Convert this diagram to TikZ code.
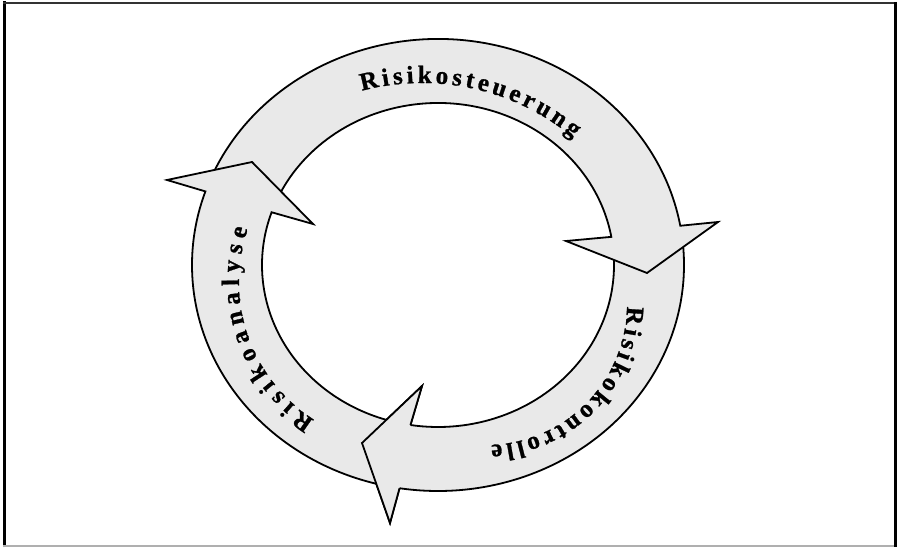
\documentclass[tikz,border=0pt]{standalone}
\usepackage{fontspec}
\newfontfamily\ringfont{Liberation Serif}[BoldFeatures={FakeBold=1}]
\usetikzlibrary{decorations.text}
\definecolor{ringfill}{RGB}{233,233,233}
\definecolor{framegray}{RGB}{50,50,50}
\definecolor{shadowgray}{RGB}{175,175,175}
\newcommand\ringstyle{\ringfont\bfseries\fontsize{25pt}{25pt}\selectfont}
\begin{document}
\begin{tikzpicture}[x=1pt,y=1pt,
  band/.style={fill=ringfill, draw=black, line width=1.8pt, line join=miter},
  headfill/.style={fill=ringfill},
  headline/.style={draw=black, line width=1.8pt, line join=miter},
  ringlabel/.style={decorate, decoration={text along path, text align=center, text={#1}}}]
\useasboundingbox (0,0) rectangle (897,547);

% frame with a darker left/right edge and a light bottom edge
\draw[line width=3.5pt] (4.7,0) -- (4.7,545.5);
\draw[line width=2pt, framegray] (3,543.7) -- (897,543.7);
\draw[line width=3pt] (895.5,545) -- (895.5,0);
\draw[line width=1.5pt, shadowgray] (3,0.9) -- (894,0.9);

\coordinate (C) at (438,282);
\begin{scope}[shift={(C)}]
  % arrow heads: outer wing, tip, inner wing
  \coordinate (Two) at (280,43);   \coordinate (Ttip) at (209,-8);   \coordinate (Twi) at (128,24);
  \coordinate (Rwo) at (-48,-258); \coordinate (Rtip) at (-76,-178); \coordinate (Rwi) at (-16,-121);
  \coordinate (Lwo) at (-271,85);  \coordinate (Ltip) at (-186,103); \coordinate (Lwi) at (-125,41);
  % barbs where the lower head meets its band
  \coordinate (Rbo) at (-99:246pt and 226pt);
  \coordinate (Rbi) at (-99:176pt and 162pt);

  % right band (Risikokontrolle)
  \draw[band] (6:246pt and 226pt)
    arc[start angle=6, end angle=-99, x radius=246pt, y radius=226pt]
    -- (Rwo) -- (Rtip) -- (Rwi) -- (Rbi)
    arc[start angle=-99, end angle=6, x radius=176pt, y radius=162pt] -- cycle;

  % top band (Risikosteuerung)
  \draw[band] (158:246pt and 226pt)
    arc[start angle=158, end angle=10, x radius=246pt, y radius=226pt]
    -- (Two) -- (Ttip) -- (Twi) -- (10:176pt and 162pt)
    arc[start angle=10, end angle=158, x radius=176pt, y radius=162pt] -- cycle;

  % left band (Risikoanalyse)
  \draw[band] (257:246pt and 226pt)
    arc[start angle=257, end angle=161, x radius=246pt, y radius=226pt]
    -- (Lwo) -- (Ltip) -- (Lwi) -- (161:176pt and 162pt)
    arc[start angle=161, end angle=257, x radius=176pt, y radius=162pt] -- cycle;

  % head of the right band laid over the tail of the left band
  \fill[headfill] (Rbo) -- (Rwo) -- (Rtip) -- (Rwi) -- (Rbi) -- cycle;
  \draw[headline] (Rbo) -- (Rwo) -- (Rtip) -- (Rwi) -- (Rbi);
\end{scope}

% labels, each on its own baseline arc
\coordinate (Tc) at (422,228);
\coordinate (Rc) at (486,243);
\coordinate (Lc) at (403,265);
\path[ringlabel={|\ringstyle\kern3.7pt|Risikosteuerung}]
  ([shift={(137.85:236pt)}]Tc) arc[start angle=137.85, end angle=17.85, radius=236pt];
\path[ringlabel={|\ringstyle\kern3.5pt|Risikokontrolle}]
  ([shift={(16.2:141pt)}]Rc) arc[start angle=16.2, end angle=-103.8, radius=141pt];
\path[ringlabel={|\ringstyle\kern5.9pt|Risikoanalyse}]
  ([shift={(260.2:164pt)}]Lc) arc[start angle=260.2, end angle=140.2, radius=164pt];
\end{tikzpicture}
\end{document}
